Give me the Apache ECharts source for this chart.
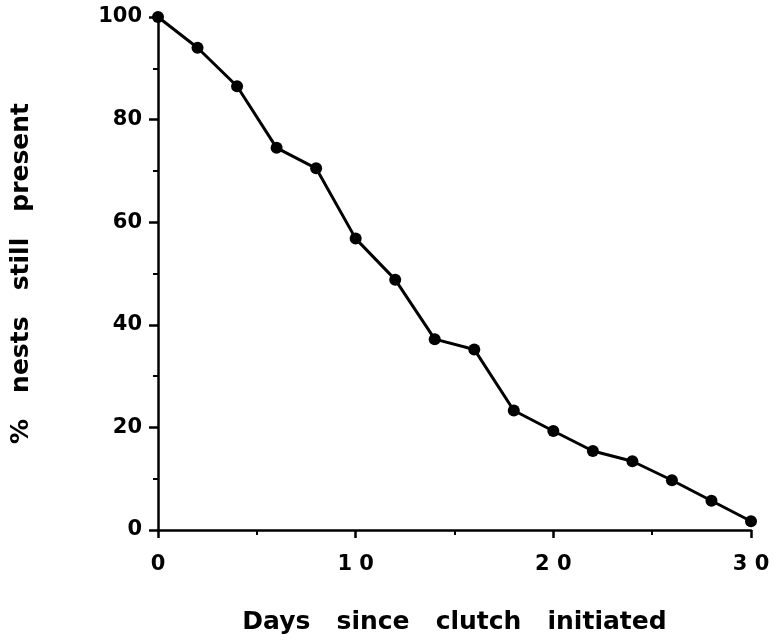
<!DOCTYPE html>
<html>
<head>
<meta charset="utf-8">
<script src="https://cdn.jsdelivr.net/npm/echarts@6/dist/echarts.min.js"></script>
<style>html,body{margin:0;padding:0;background:#fff}#c{width:773px;height:640px}</style>
</head>
<body>
<div id="c"></div>
<script>
const days = [0, 2, 4, 6, 8, 10, 12, 14, 16, 18, 20, 22, 24, 26, 28, 30];
const nestsPresent = [100, 94, 86.5, 74.5, 70.5, 56.8, 48.8, 37.2, 35.2, 23.3, 19.3, 15.4, 13.4, 9.7, 5.7, 1.7];
const xTitle = 'Days   since   clutch   initiated';
const yTitle = '%   nests   still   present';

const FONT = '"DejaVu Sans", "Liberation Sans", Arial, sans-serif';
const chart = echarts.init(document.getElementById('c'));
chart.setOption({
  animation: false,
  backgroundColor: '#fff',
  grid: { left: 158, right: 22, top: 17, bottom: 108 },
  xAxis: {
    type: 'value', min: 0, max: 30, interval: 10,
    name: xTitle, nameLocation: 'middle', nameGap: 80,
    nameTextStyle: { fontFamily: FONT, fontWeight: 'bold', fontSize: 25, color: '#000' },
    axisLine: { show: true, lineStyle: { color: '#000', width: 2.5 } },
    axisTick: { show: true, inside: false, length: 8, lineStyle: { color: '#000', width: 2.5 } },
    minorTick: { show: true, splitNumber: 2, length: 5, lineStyle: { color: '#000', width: 2 } },
    splitLine: { show: false },
    axisLabel: { margin: 24, fontFamily: FONT, fontWeight: 'bold', fontSize: 21, color: '#000',
      formatter: v => String(v).split('').join(' ') }
  },
  yAxis: {
    type: 'value', min: 0, max: 100, interval: 20,
    name: yTitle, nameLocation: 'middle', nameGap: 124, nameRotate: 90,
    nameTextStyle: { fontFamily: FONT, fontWeight: 'bold', fontSize: 25, color: '#000' },
    axisLine: { show: true, lineStyle: { color: '#000', width: 2.5 } },
    axisTick: { show: true, inside: false, length: 9, lineStyle: { color: '#000', width: 2.5 } },
    minorTick: { show: true, splitNumber: 2, length: 5, lineStyle: { color: '#000', width: 2 } },
    splitLine: { show: false },
    axisLabel: { margin: 16, fontFamily: FONT, fontWeight: 'bold', fontSize: 21, color: '#000' }
  },
  series: [{
    type: 'line',
    data: days.map((d, i) => [d, nestsPresent[i]]),
    symbol: 'circle', symbolSize: 12,
    itemStyle: { color: '#000' },
    lineStyle: { color: '#000', width: 3 },
    clip: false
  }]
});
</script>
</body>
</html>
